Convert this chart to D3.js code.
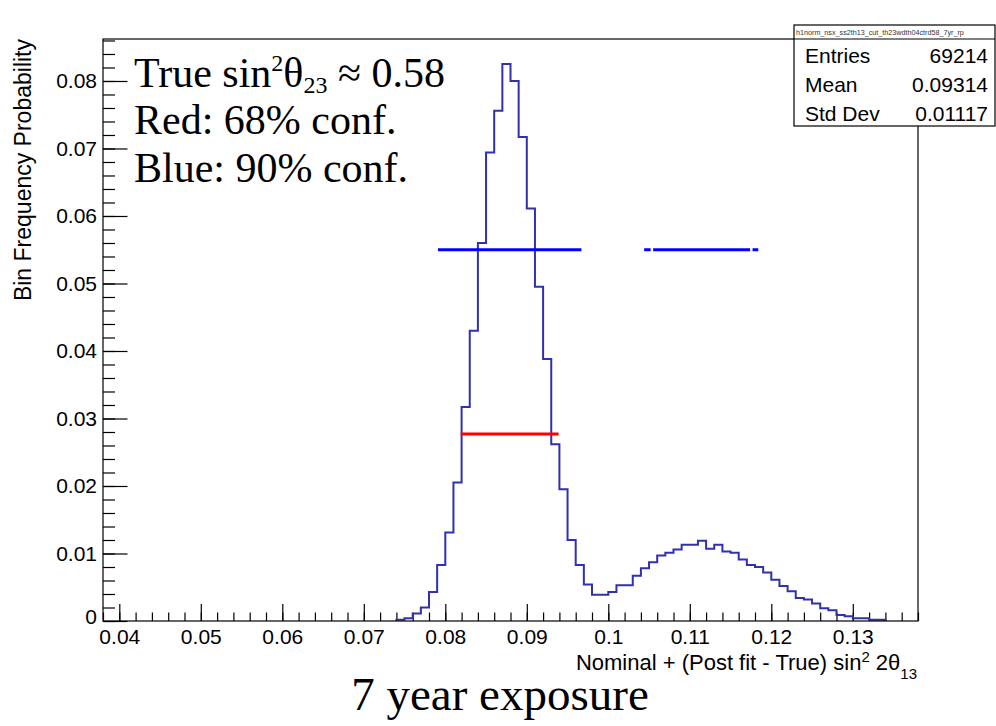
<!DOCTYPE html>
<html>
<head>
<meta charset="utf-8">
<script src="https://cdn.jsdelivr.net/npm/d3@7"></script>
<style>
  body { margin: 0; background: #fff; }
  svg { display: block; }
</style>
</head>
<body>
<div id="chart"></div>
<script>
// histogram: bins of 0.001, low edges listed with their probability
const binWidth = 0.001
const binLowEdges = [0.074,0.075,0.076,0.077,0.078,0.079,0.080,0.081,0.082,0.083,
  0.084,0.085,0.086,0.087,0.088,0.089,0.090,0.091,0.092,0.093,
  0.094,0.095,0.096,0.097,0.098,0.099,0.100,0.101,0.102,0.103,
  0.104,0.105,0.106,0.107,0.108,0.109,0.110,0.111,0.112,0.113,
  0.114,0.115,0.116,0.117,0.118,0.119,0.120,0.121,0.122,0.123,
  0.124,0.125,0.126,0.127,0.128,0.129,0.130,0.131,0.132,0.133]
const binValues = [0.0002,0.0004,0.0011,0.0020,0.0043,0.0083,0.0131,0.0205,0.0317,0.0430,
  0.0560,0.0694,0.0756,0.0825,0.0800,0.0717,0.0611,0.0495,0.0388,0.0262,
  0.0195,0.0120,0.0083,0.0054,0.0039,0.0039,0.0043,0.0053,0.0053,0.0067,
  0.0078,0.0087,0.0097,0.0101,0.0106,0.0113,0.0113,0.0119,0.0107,0.0113,
  0.0103,0.0101,0.0091,0.0083,0.0080,0.0072,0.0061,0.0052,0.0044,0.0034,
  0.0032,0.0026,0.0019,0.0016,0.0009,0.0007,0.0004,0.0004,0.0002,0.0002]

// confidence intervals [from, to, level]
const conf90 = [[0.0791,0.0967,0.055],[0.1044,0.1052,0.055],[0.1055,0.1174,0.055],[0.1177,0.1184,0.055]]
const conf68 = [[0.0819,0.0939,0.0277]]

const xDomain = [0.038, 0.138]
const yDomain = [0, 0.08622]
const xTickValues = [0.04,0.05,0.06,0.07,0.08,0.09,0.10,0.11,0.12,0.13]
const xTickLabels = ["0.04","0.05","0.06","0.07","0.08","0.09","0.1","0.11","0.12","0.13"]
const yTickValues = [0,0.01,0.02,0.03,0.04,0.05,0.06,0.07,0.08]
const yTickLabels = ["0","0.01","0.02","0.03","0.04","0.05","0.06","0.07","0.08"]

const statNames = ["Entries","Mean","Std Dev"]
const statValues = ["69214","0.09314","0.01117"]
const histName = "h1norm_nsx_ss2th13_cut_th23wdth04ctrd58_7yr_rp"

const w = 996
const h = 726
const pLeft = 103, pRight = 918, pTop = 39, pBottom = 621
const sans = "'Liberation Sans', Arial, sans-serif"
const serif = "'Liberation Serif', 'Times New Roman', serif"

const svg = d3.select("#chart")
  .append("svg")
  .attr("width", w)
  .attr("height", h)

const x = d3.scaleLinear().domain(xDomain).range([pLeft, pRight])
const y = d3.scaleLinear().domain(yDomain).range([pBottom, pTop])

// minor ticks
svg.append("g")
  .attr("transform", `translate(0,${pBottom})`)
  .call(d3.axisBottom(x).tickValues(x.ticks(50)).tickSize(-8.5).tickFormat(""))
  .call(g => g.select(".domain").remove())
svg.append("g")
  .attr("transform", `translate(${pLeft},0)`)
  .call(d3.axisLeft(y).tickValues(y.ticks(43)).tickSize(-12).tickFormat(""))
  .call(g => g.select(".domain").remove())

// major ticks + labels
const xAxis = svg.append("g")
  .attr("transform", `translate(0,${pBottom})`)
  .call(d3.axisBottom(x).tickValues(xTickValues).tickSize(-17).tickPadding(8)
    .tickFormat((d, i) => xTickLabels[i]))
  .call(g => g.select(".domain").remove())
xAxis.selectAll("text").attr("font-family", sans).attr("font-size", 21).attr("fill", "#000")

const yAxis = svg.append("g")
  .attr("transform", `translate(${pLeft},0)`)
  .call(d3.axisLeft(y).tickValues(yTickValues).tickSize(-24.5).tickPadding(6)
    .tickFormat((d, i) => yTickLabels[i]))
  .call(g => g.select(".domain").remove())
yAxis.selectAll("text").attr("font-family", sans).attr("font-size", 21).attr("fill", "#000")
yAxis.selectAll(".tick").filter(d => d === 0).select("text").attr("dy", "0.1em")

svg.selectAll(".tick line").attr("stroke", "#000").attr("stroke-width", 1.2)

// histogram outline
const pts = [[x(binLowEdges[0]), y(0)]]
binLowEdges.forEach((lo, i) => {
  pts.push([x(lo), y(binValues[i])])
  pts.push([x(lo + binWidth), y(binValues[i])])
})
pts.push([x(binLowEdges[binLowEdges.length - 1] + binWidth), y(0)])

svg.append("path")
  .attr("d", d3.line()(pts))
  .attr("fill", "none")
  .attr("stroke", "#3030b0")
  .attr("stroke-width", 2)

// confidence lines
svg.selectAll(".c90")
  .data(conf90)
  .join("line")
  .attr("class", "c90")
  .attr("x1", d => x(d[0]))
  .attr("x2", d => x(d[1]))
  .attr("y1", d => y(d[2]))
  .attr("y2", d => y(d[2]))
  .attr("stroke", "#0000ff")
  .attr("stroke-width", 3)

svg.selectAll(".c68")
  .data(conf68)
  .join("line")
  .attr("class", "c68")
  .attr("x1", d => x(d[0]))
  .attr("x2", d => x(d[1]))
  .attr("y1", d => y(d[2]))
  .attr("y2", d => y(d[2]))
  .attr("stroke", "#ff0000")
  .attr("stroke-width", 3)

// frame
svg.append("rect")
  .attr("x", pLeft).attr("y", pTop)
  .attr("width", pRight - pLeft).attr("height", pBottom - pTop)
  .attr("fill", "none").attr("stroke", "#000").attr("stroke-width", 1.2)

// axis titles
svg.append("text")
  .attr("transform", `translate(31,${pTop}) rotate(-90)`)
  .attr("text-anchor", "end")
  .attr("font-family", sans)
  .attr("font-size", 23)
  .text("Bin Frequency Probability")

const xt = svg.append("text")
  .attr("x", 917).attr("y", 670)
  .attr("text-anchor", "end")
  .attr("font-family", sans)
  .attr("font-size", 22)
xt.append("tspan").text("Nominal + (Post fit - True) sin")
xt.append("tspan").attr("font-size", 15).attr("dy", -8).text("2")
xt.append("tspan").attr("dy", 8).text(" 2θ")
xt.append("tspan").attr("font-size", 15).attr("dy", 9).text("13")

// annotation
const ann = svg.append("g").attr("font-family", serif).attr("font-size", 42).attr("fill", "#000")
const l1 = ann.append("text").attr("x", 134).attr("y", 87)
l1.append("tspan").text("True sin")
l1.append("tspan").attr("font-size", 24).attr("dy", -16).text("2")
l1.append("tspan").attr("dy", 16).text("θ")
l1.append("tspan").attr("font-size", 24).attr("dy", 6).text("23")
l1.append("tspan").attr("dy", -6).text(" ≈ 0.58")
ann.append("text").attr("x", 134).attr("y", 134).text("Red: 68% conf.")
ann.append("text").attr("x", 134).attr("y", 182).text("Blue: 90% conf.")

svg.append("text")
  .attr("x", 500).attr("y", 710)
  .attr("text-anchor", "middle")
  .attr("font-family", serif)
  .attr("font-size", 47)
  .text("7 year exposure")

// stats box
const sb = svg.append("g")
sb.append("rect")
  .attr("x", 794).attr("y", 25).attr("width", 201).attr("height", 101)
  .attr("fill", "#fff").attr("stroke", "#000").attr("stroke-width", 1.2)
sb.append("line")
  .attr("x1", 794).attr("x2", 995).attr("y1", 39).attr("y2", 39)
  .attr("stroke", "#000").attr("stroke-width", 1.2)
sb.append("text")
  .attr("x", 796).attr("y", 35)
  .attr("font-family", sans).attr("font-size", 7.2)
  .attr("fill", "#333")
  .text(histName)
statNames.forEach((n, i) => {
  sb.append("text")
    .attr("x", 805).attr("y", 63 + i * 29)
    .attr("font-family", sans).attr("font-size", 21)
    .text(n)
  sb.append("text")
    .attr("x", 988).attr("y", 63 + i * 29)
    .attr("text-anchor", "end")
    .attr("font-family", sans).attr("font-size", 21)
    .text(statValues[i])
})
</script>
</body>
</html>
